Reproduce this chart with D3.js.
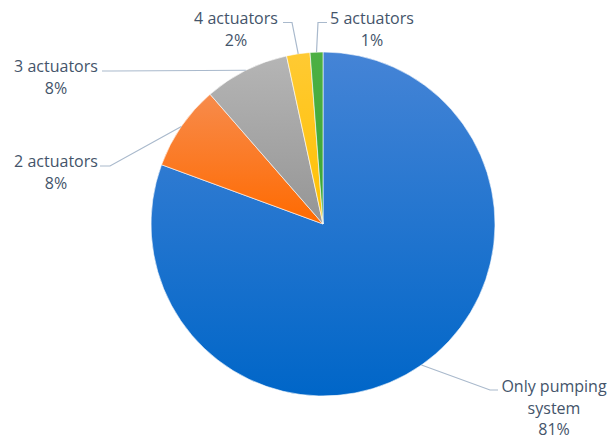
<!DOCTYPE html>
<html>
<head>
<meta charset="utf-8">
<script src="https://cdn.jsdelivr.net/npm/d3@7"></script>
<style>
  html, body { margin: 0; padding: 0; background: #ffffff; }
  svg { display: block; }
</style>
</head>
<body>
<svg id="chart" width="607" height="439"></svg>
<script>
// ---- data ----
const categories = ["Only pumping system", "2 actuators", "3 actuators", "4 actuators", "5 actuators"];
const values = [80.6, 8.0, 8.0, 2.2, 1.2];
const percentLabels = ["81%", "8%", "8%", "2%", "1%"];
const labelLines = [["Only pumping", "system", "81%"], ["2 actuators", "8%"], ["3 actuators", "8%"], ["4 actuators", "2%"], ["5 actuators", "1%"]];

// ---- styling ----
const colorsTop = ["#4584d6", "#f78b4c", "#b5b5b5", "#ffca33", "#4db044"];
const colorsBottom = ["#0066c8", "#ff6a00", "#959595", "#ffc000", "#39a635"];
// label anchor (centre of first text line baseline) and leader elbow
const labelPos = [
  { x: 554, y: 392, elbow: [[498, 390], [490, 390]] },
  { x: 56, y: 167, elbow: [[100, 166], [110, 166]] },
  { x: 56, y: 72, elbow: [[102, 71], [112, 71]] },
  { x: 236, y: 24, elbow: [[283, 22.5], [292, 22.5]] },
  { x: 372, y: 24, elbow: [[327, 22.5], [318, 22.5]] }
];

const svg = d3.select("#chart");
const cx = 323, cy = 224, r = 172;

const defs = svg.append("defs");
categories.forEach((c, i) => {
  const g = defs.append("linearGradient")
    .attr("id", "grad" + i)
    .attr("x1", 0).attr("y1", 0).attr("x2", 0).attr("y2", 1);
  g.append("stop").attr("offset", "0%").attr("stop-color", colorsTop[i]);
  g.append("stop").attr("offset", "100%").attr("stop-color", colorsBottom[i]);
});

const pie = d3.pie().sort(null).value(d => d)
  .startAngle(0).endAngle(2 * Math.PI);
const arcs = pie(values);
const arc = d3.arc().innerRadius(0).outerRadius(r);

const g = svg.append("g").attr("transform", `translate(${cx},${cy})`);

// leader lines (drawn beneath slices)
const lineG = svg.append("g");
arcs.forEach((a, i) => {
  const mid = (a.startAngle + a.endAngle) / 2;
  const px = cx + r * Math.sin(mid);
  const py = cy - r * Math.cos(mid);
  const pts = [labelPos[i].elbow[0], labelPos[i].elbow[1], [px, py]];
  lineG.append("path")
    .attr("d", d3.line()(pts))
    .attr("fill", "none")
    .attr("stroke", "#a9b9cc")
    .attr("stroke-width", 1.2);
});

g.selectAll("path.slice")
  .data(arcs)
  .enter().append("path")
  .attr("class", "slice")
  .attr("d", arc)
  .attr("fill", (d, i) => `url(#grad${i})`)
  .attr("stroke", "#ffffff")
  .attr("stroke-width", 0.6);

// labels
const labG = svg.append("g")
  .attr("font-family", "'Open Sans', 'DejaVu Sans', sans-serif")
  .attr("font-size", 16)
  .attr("fill", "#44546a")
  .attr("text-anchor", "middle");
labelLines.forEach((lines, i) => {
  const t = labG.append("text").attr("x", labelPos[i].x).attr("y", labelPos[i].y);
  lines.forEach((ln, j) => {
    t.append("tspan").attr("x", labelPos[i].x).attr("dy", j === 0 ? 0 : 21.5).text(ln);
  });
});
</script>
</body>
</html>
